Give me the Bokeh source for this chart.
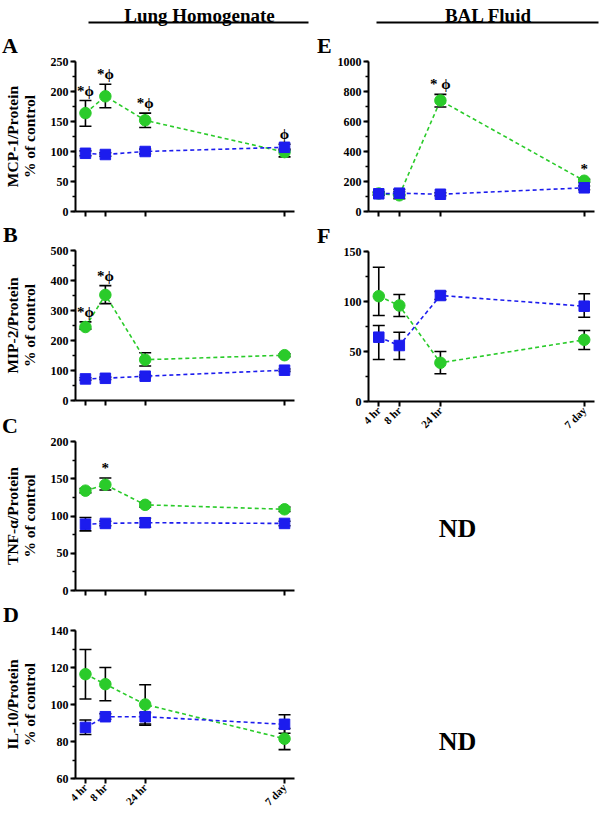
from bokeh.plotting import figure
from bokeh.models import (ColumnDataSource, Range1d, FixedTicker, SingleIntervalTicker,
                          Whisker, TeeHead, Div)
from bokeh.layouts import column, row
from bokeh.core.properties import value
from bokeh.embed import file_html
from bokeh.resources import INLINE

# ---------------- data ----------------
time_labels = ["4 hr", "8 hr", "24 hr", "7 day"]
time_pos = [0, 1, 3, 10]          # position of each sampling time on the time axis

# A  MCP-1 lung homogenate
mcp1_lung_g = [164, 192, 152, 99]
mcp1_lung_g_lo = [142, 173, 140, 91]
mcp1_lung_g_hi = [185, 212, 164, 104]
mcp1_lung_b = [97, 95, 100, 107]
mcp1_lung_b_lo = [93, 92, 96, 102]
mcp1_lung_b_hi = [101, 98, 104, 112]
mcp1_lung_sig = ["*ϕ", "*ϕ", "*ϕ", "ϕ"]

# B  MIP-2 lung homogenate
mip2_lung_g = [245, 352, 136, 151]
mip2_lung_g_lo = [238, 323, 115, 146]
mip2_lung_g_hi = [262, 383, 159, 156]
mip2_lung_b = [72, 74, 81, 101]
mip2_lung_b_lo = [68, 70, 77, 97]
mip2_lung_b_hi = [76, 78, 85, 105]
mip2_lung_sig = ["*ϕ", "*ϕ", "", ""]

# C  TNF-alpha lung homogenate
tnf_lung_g = [134, 142, 115, 109]
tnf_lung_g_lo = [131, 135, 112, 106]
tnf_lung_g_hi = [137, 151, 118, 112]
tnf_lung_b = [89, 90, 91, 90]
tnf_lung_b_lo = [80, 87, 85, 87]
tnf_lung_b_hi = [98, 93, 97, 93]
tnf_lung_sig = ["", "*", "", ""]

# D  IL-10 lung homogenate
il10_lung_g = [116.4, 111, 100, 81.5]
il10_lung_g_lo = [103, 102, 89.5, 75.6]
il10_lung_g_hi = [129.7, 120, 110.7, 87]
il10_lung_b = [87.6, 93.4, 93.4, 89.3]
il10_lung_b_lo = [83.8, 92, 88.8, 84.5]
il10_lung_b_hi = [91.6, 95, 95.6, 94.5]
il10_lung_sig = ["", "", "", ""]

# E  MCP-1 BAL fluid
mcp1_bal_g = [120, 108, 740, 205]
mcp1_bal_g_lo = [110, 85, 697, 195]
mcp1_bal_g_hi = [130, 147, 781, 215]
mcp1_bal_b = [118, 122, 115, 158]
mcp1_bal_b_lo = [108, 112, 105, 145]
mcp1_bal_b_hi = [128, 132, 125, 170]
mcp1_bal_sig = ["", "", "* ϕ", "*"]

# F  MIP-2 BAL fluid
mip2_bal_g = [105.3, 96, 38.7, 61.7]
mip2_bal_g_lo = [86, 85, 27.7, 52]
mip2_bal_g_hi = [134.3, 107, 50, 71]
mip2_bal_b = [64.3, 56, 106, 95.3]
mip2_bal_b_lo = [42, 42, 102, 84.3]
mip2_bal_b_hi = [76, 69.3, 110, 107.7]
mip2_bal_sig = ["", "", "", ""]

# ---------------- style ----------------
GREEN = "#2acb2a"
BLUE = "#1c1cee"
FONT = "Liberation Serif"
W = 300
BL, BR = 68, 6


def letter_strip(letter, h, lx):
    # baseline of a 22px Liberation Serif line with 16px line-height sits 15.4px below its top
    pad_top = h - 0.5 - 15.4
    html = (f'<div style="padding-left:{lx}px;padding-top:{pad_top:.1f}px;'
            f"font-family:'Liberation Serif',serif;font-weight:bold;font-size:22px;"
            f'line-height:16px;color:#000;">{letter}</div>')
    return Div(text=html, width=W, height=h, margin=0)


def panel(g, glo, ghi, b, blo, bhi, sig, ylo, yhi, interval, ylabel,
          show_x, height, bb):
    p = figure(width=W, height=height, output_backend="svg", toolbar_location=None,
               x_range=Range1d(-0.5, 10.5), y_range=Range1d(ylo, yhi),
               min_border_left=BL, min_border_right=BR, min_border_top=7,
               min_border_bottom=bb)
    p.outline_line_color = None
    p.grid.visible = False
    p.background_fill_color = "white"
    p.border_fill_color = "white"

    src_g = ColumnDataSource(dict(x=time_pos, y=g, lo=glo, hi=ghi))
    src_b = ColumnDataSource(dict(x=time_pos, y=b, lo=blo, hi=bhi))
    for src in (src_g, src_b):
        w = Whisker(source=src, base="x", upper="hi", lower="lo", dimension="height",
                    line_color="black", line_width=1.6,
                    upper_head=TeeHead(size=12, line_color="black", line_width=1.6),
                    lower_head=TeeHead(size=12, line_color="black", line_width=1.6))
        p.add_layout(w)

    p.line("x", "y", source=src_g, line_color=GREEN, line_width=1.6, line_dash="4 3")
    p.scatter("x", "y", source=src_g, marker="circle", size=11.5,
              fill_color=GREEN, line_color=GREEN)
    p.line("x", "y", source=src_b, line_color=BLUE, line_width=1.6, line_dash="4 3")
    p.scatter("x", "y", source=src_b, marker="square", size=10.5,
              fill_color=BLUE, line_color=BLUE)

    top = [max(u, v, w) for u, v, w in zip(ghi, bhi, g)]
    p.text(x=time_pos, y=top, text=sig, text_font=value(FONT), text_font_style="bold",
           text_font_size="15px", text_align="center", text_baseline="bottom",
           y_offset=-2, text_color="black")

    # axes
    p.xaxis.ticker = FixedTicker(ticks=time_pos)
    if show_x:
        p.xaxis.major_label_overrides = {t: lab for t, lab in zip(time_pos, time_labels)}
        p.xaxis.major_label_orientation = 0.785398
        p.xaxis.major_label_text_font_size = "11px"
    else:
        p.xaxis.major_label_overrides = {t: "" for t in time_pos}
        p.xaxis.major_label_text_font_size = "0px"
    p.yaxis.ticker = SingleIntervalTicker(interval=interval, num_minor_ticks=2)
    p.yaxis.major_label_text_font_size = "12px"
    for ax in (p.xaxis[0], p.yaxis[0]):
        ax.axis_line_width = 2
        ax.axis_line_color = "black"
        ax.major_tick_line_width = 2
        ax.major_tick_line_color = "black"
        ax.minor_tick_line_width = 1.5
        ax.minor_tick_line_color = "black"
        ax.major_tick_in = 0
        ax.major_tick_out = 5
        ax.minor_tick_in = 0
        ax.minor_tick_out = 3
        ax.major_label_text_font = FONT
        ax.major_label_text_font_style = "bold"
        ax.major_label_text_color = "black"
        ax.major_label_standoff = 2
    if ylabel:
        p.yaxis.axis_label = ylabel
        p.yaxis.axis_label_text_font = FONT
        p.yaxis.axis_label_text_font_style = "bold"
        p.yaxis.axis_label_text_font_size = "15.5px"
        p.yaxis.axis_label_text_line_height = 1.0
        p.yaxis.axis_label_standoff = 10
        p.yaxis.axis_label_text_color = "black"
    return p


pA = panel(mcp1_lung_g, mcp1_lung_g_lo, mcp1_lung_g_hi, mcp1_lung_b, mcp1_lung_b_lo,
           mcp1_lung_b_hi, mcp1_lung_sig, 0, 250, 50, "MCP-1/Protein\n% of control",
           False, 168, 11)
pB = panel(mip2_lung_g, mip2_lung_g_lo, mip2_lung_g_hi, mip2_lung_b, mip2_lung_b_lo,
           mip2_lung_b_hi, mip2_lung_sig, 0, 500, 100, "MIP-2/Protein\n% of control",
           False, 168, 11)
pC = panel(tnf_lung_g, tnf_lung_g_lo, tnf_lung_g_hi, tnf_lung_b, tnf_lung_b_lo,
           tnf_lung_b_hi, tnf_lung_sig, 0, 200, 50, "TNF-α/Protein\n% of control",
           False, 167, 11)
pD = panel(il10_lung_g, il10_lung_g_lo, il10_lung_g_hi, il10_lung_b, il10_lung_b_lo,
           il10_lung_b_hi, il10_lung_sig, 60, 140, 20, "IL-10/Protein\n% of control",
           True, 191, 34)
pE = panel(mcp1_bal_g, mcp1_bal_g_lo, mcp1_bal_g_hi, mcp1_bal_b, mcp1_bal_b_lo,
           mcp1_bal_b_hi, mcp1_bal_sig, 0, 1000, 200, None,
           False, 168, 11)
pF = panel(mip2_bal_g, mip2_bal_g_lo, mip2_bal_g_hi, mip2_bal_b, mip2_bal_b_lo,
           mip2_bal_b_hi, mip2_bal_sig, 0, 150, 50, None,
           True, 197, 40)

sA = letter_strip("A", 24, 2)
sB = letter_strip("B", 21, 3)
sC = letter_strip("C", 23, 2)
sD = letter_strip("D", 22, 3)
sE = letter_strip("E", 24, 17)
sF = letter_strip("F", 22, 17)


def blank(w, h, bl=0, br=0):
    # pixel-unit canvas; its x range covers the frame only
    f = figure(width=w, height=h, output_backend="svg", toolbar_location=None,
               x_range=Range1d(bl, w - br), y_range=Range1d(h, 0),
               min_border_left=bl, min_border_right=br, min_border_top=0,
               min_border_bottom=0, x_axis_location=None, y_axis_location=None)
    f.grid.visible = False
    f.outline_line_color = None
    return f


hdr = blank(600, 30)
hdr.text(x=[199, 488], y=[15, 15], text=["Lung Homogenate", "BAL Fluid"],
         text_font=value(FONT), text_font_style="bold", text_font_size="19px",
         text_align="center", text_baseline="alphabetic", text_color="black")
hdr.segment(x0=[88, 376], y0=[22, 22], x1=[308, 598], y1=[22, 22],
            line_width=2, line_color="black")

nd = blank(W, 373, BL, BR)
nd.text(x=[157, 157], y=[87, 300], text=["ND", "ND"], text_font=value(FONT),
        text_font_style="bold", text_font_size="26px", text_align="center",
        text_baseline="middle", text_color="black")

layout = column(hdr, row(column(sA, pA, sB, pB, sC, pC, sD, pD),
                         column(sE, pE, sF, pF, nd)))

open("out.html", "w").write(file_html(layout, INLINE))
